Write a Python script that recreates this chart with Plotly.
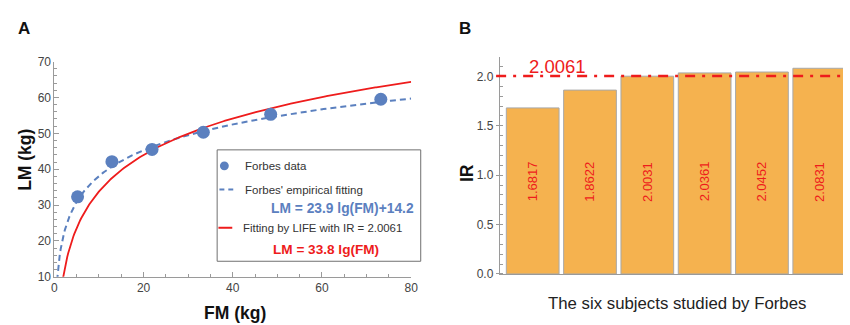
import numpy as np
import plotly.graph_objects as go

# ---------------- data ----------------
fm_data = [5.2, 12.9, 21.9, 33.4, 48.5, 73.2]
lm_data = [32.3, 42.1, 45.5, 50.3, 55.3, 59.5]
# fitted equations shown in the legend
forbes_a, forbes_b = 23.9, 14.2      # LM = 23.9 lg(FM) + 14.2
life_a = 33.8                         # LM = 33.8 lg(FM)

subjects = [0, 1, 2, 3, 4, 5]
ir_values = [1.6817, 1.8622, 2.0031, 2.0361, 2.0452, 2.0831]
ir_labels = ["1.6817", "1.8622", "2.0031", "2.0361", "2.0452", "2.0831"]
ir_fit = 2.0061

W, H = 850, 325
def X(px): return px / W
def Y(py): return 1 - py / H

BLUE = "#5B80BF"
RED = "#EE1C1C"
ORANGE = "#F5B24F"
TICKC = "#444444"
AXC = "#9A9A9A"
FONT = "Liberation Sans, Arial, sans-serif"
NARROW = "Liberation Sans Narrow, Arial Narrow, Liberation Sans, sans-serif"

fig = go.Figure()

# fitted curves
x_blue = np.linspace(0.6, 80, 400)
x_red = np.linspace(1.9, 80, 400)
fig.add_trace(go.Scatter(x=x_blue, y=forbes_a * np.log10(x_blue) + forbes_b, mode="lines",
                         line=dict(color=BLUE, width=2, dash="6px,4px"),
                         xaxis="x", yaxis="y", showlegend=False, hoverinfo="skip"))
fig.add_trace(go.Scatter(x=x_red, y=life_a * np.log10(x_red), mode="lines",
                         line=dict(color=RED, width=1.8),
                         xaxis="x", yaxis="y", showlegend=False, hoverinfo="skip"))
fig.add_trace(go.Scatter(x=fm_data, y=lm_data, mode="markers",
                         marker=dict(color=BLUE, size=13),
                         xaxis="x", yaxis="y", showlegend=False))

# bars
fig.add_trace(go.Bar(x=subjects, y=ir_values, marker=dict(color=ORANGE, line=dict(color="#A8A8A8", width=1)),
                     xaxis="x2", yaxis="y2", showlegend=False, width=0.92))

annotations = []
for s, lab in zip(subjects, ir_labels):
    annotations.append(dict(x=s, y=0.935, xref="x2", yref="y2", text=lab, textangle=-90,
                            xanchor="center", yanchor="middle",
                            showarrow=False, font=dict(color=RED, size=13, family=FONT)))

def pa(px, py, text, size, color="#111", angle=0, xanchor="center"):
    return dict(x=X(px), y=Y(py), xref="paper", yref="paper", text=text, textangle=angle,
                xanchor=xanchor, yanchor="middle", showarrow=False,
                font=dict(size=size, color=color, family=FONT))

# panel labels & axis titles
annotations += [
    pa(21, 22, "<b>A</b>", 17),
    pa(467, 22, "<b>B</b>", 17),
    pa(22, 160, "<b>LM (kg)</b>", 17.5, angle=-90),
    pa(235, 320, "<b>FM (kg)</b>", 17.5),
    pa(469, 173, "<b>IR</b>", 17.5, angle=-90),
    pa(682, 310, "The six subjects studied by Forbes", 16.8, color="#222"),
    dict(x=X(561), y=ir_fit, xref="paper", yref="y2", xanchor="center", yanchor="bottom", yshift=-3,
         text=f"{ir_fit:.4f}", showarrow=False, font=dict(size=18.5, color=RED, family=FONT)),
]

# legend texts
leg = [
    (243, 166, "Forbes data", "#333", False, 11.5),
    (243, 191, "Forbes' empirical fitting", "#333", False, 11.5),
    (269, 211, f"LM = {forbes_a} lg(FM)+{forbes_b}", BLUE, True, 13.8),
    (241, 231, "Fitting by LIFE with IR = 2.0061", "#333", False, 11.4),
    (271, 253, f"LM = {life_a} lg(FM)", RED, True, 13.6),
]
for px, py, t, c, b, sz in leg:
    annotations.append(pa(px, py, f"<b>{t}</b>" if b else t, sz, color=c, xanchor="left"))

shapes = [
    dict(type="rect", xref="paper", yref="paper", x0=X(216.7), x1=X(422.7), y0=Y(265.7), y1=Y(149.3),
         line=dict(color="#707070", width=1), fillcolor="white", layer="above"),
    dict(type="circle", xref="paper", yref="paper", x0=X(219.5), x1=X(228.5), y0=Y(170.5), y1=Y(161.5),
         line=dict(width=0), fillcolor=BLUE),
    dict(type="line", xref="paper", yref="paper", x0=X(219), x1=X(224), y0=Y(190.7), y1=Y(190.7),
         line=dict(color=BLUE, width=2)),
    dict(type="line", xref="paper", yref="paper", x0=X(228), x1=X(233), y0=Y(190.7), y1=Y(190.7),
         line=dict(color=BLUE, width=2)),
    dict(type="line", xref="paper", yref="paper", x0=X(218), x1=X(232), y0=Y(230.7), y1=Y(230.7),
         line=dict(color=RED, width=2)),
    dict(type="line", xref="paper", yref="y2", x0=X(499), x1=1.0, y0=ir_fit, y1=ir_fit,
         line=dict(color=RED, width=2.5, dash="10px,7px,3px,7px"), layer="above"),
]

axis_common = dict(showgrid=False, zeroline=False, showline=True, linecolor=AXC, linewidth=1,
                   tickfont=dict(size=12, color=TICKC, family=NARROW), tickcolor=AXC)

fig.update_layout(
    width=W, height=H, margin=dict(l=0, r=0, t=0, b=0),
    plot_bgcolor="white", paper_bgcolor="white", bargap=0.08,
    xaxis=dict(domain=[X(52), X(413)], range=[0, 80], anchor="y", tickvals=[0, 20, 40, 60, 80],
               ticks="inside", ticklen=5, minor=dict(dtick=5, ticks="inside", ticklen=3, tickcolor=AXC),
               **axis_common),
    yaxis=dict(domain=[Y(282), Y(57)], range=[10, 70], anchor="x", tickvals=[10, 20, 30, 40, 50, 60, 70],
               ticks="inside", ticklen=5, minor=dict(dtick=2, ticks="inside", ticklen=3, tickcolor=AXC),
               **axis_common),
    xaxis2=dict(domain=[X(502.7), 1.0], range=[-0.574, 5.414], anchor="y2", showticklabels=False,
                ticks="", **axis_common),
    yaxis2=dict(domain=[Y(279), Y(52.7)], range=[0, 2.193], anchor="x2", tickvals=[0, 0.5, 1.0, 1.5, 2.0],
                tickformat=".1f", ticks="outside", ticklen=3,
                minor=dict(dtick=0.1, ticks="inside", ticklen=3, tickcolor=AXC), **axis_common),
    annotations=annotations, shapes=shapes,
)

fig.write_html("out.html")
